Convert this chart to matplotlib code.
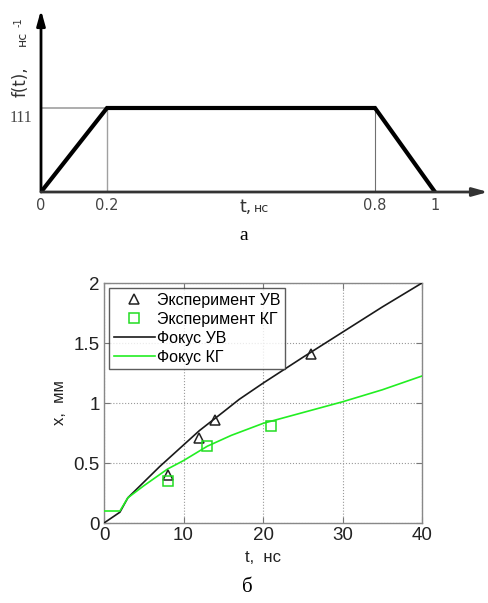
import numpy as np
import matplotlib
matplotlib.use("Agg")
import matplotlib.pyplot as plt

# ---- data: panel a (pulse shape) ----
pulse_t = [0, 0.2, 0.8, 1.0]
pulse_f = [0, 111, 111, 0]
pulse_ticks = [0, 0.2, 0.8, 1]
pulse_tick_labels = ["0", "0.2", "0.8", "1"]
# schematic (non-linear) drawing positions of the t axis
sch_t = [0, 0.2, 0.8, 1.0, 1.2]
sch_pos = [0, 66, 334, 394, 454]

# ---- data: panel b ----
exp_uv_t = [8, 12, 14, 26]
exp_uv_x = [0.40, 0.71, 0.86, 1.41]
exp_kg_t = [8, 13, 21]
exp_kg_x = [0.35, 0.645, 0.81]
foc_uv_t = [0, 2, 3, 5, 7, 10, 12, 15, 17, 20, 25, 30, 35, 40]
foc_uv_x = [0, 0.09, 0.21, 0.34, 0.47, 0.65, 0.77, 0.925, 1.03, 1.165, 1.38, 1.59, 1.80, 2.0]
foc_kg_t = [0, 2, 3, 5, 8, 10, 13, 16, 20, 25, 30, 35, 40]
foc_kg_x = [0.1, 0.1, 0.21, 0.31, 0.45, 0.52, 0.64, 0.73, 0.83, 0.92, 1.01, 1.11, 1.225]

W, H = 488, 603
fig = plt.figure(figsize=(W / 100, H / 100), dpi=100)

def fx(px):
    return px / W

def fy(py):
    return 1 - py / H

# ---------------- panel a ----------------
ax1 = fig.add_axes([fx(41), fy(192), fx(488 - 41), (192 - 10) / H])
fwd = lambda t: np.interp(t, sch_t, sch_pos)
inv = lambda p: np.interp(p, sch_pos, sch_t)
ax1.set_xscale("function", functions=(fwd, inv))
ax1.set_xlim(0, inv(447))
ax1.set_ylim(0, (192 - 10) / 84 * 111)
for s in ax1.spines.values():
    s.set_visible(False)
ax1.set_xticks([])
ax1.set_yticks([])
ax1.patch.set_alpha(0)

grey = "#a0a0a0"
ax1.plot([0, pulse_t[1]], [pulse_f[1], pulse_f[1]], color=grey, lw=1.2)
ax1.plot([pulse_t[1], pulse_t[1]], [0, pulse_f[1]], color=grey, lw=1.0)
ax1.plot([pulse_t[2], pulse_t[2]], [0, pulse_f[2]], color="#707070", lw=0.8)
ax1.plot(pulse_t, pulse_f, color="black", lw=3, solid_joinstyle="miter", zorder=3)
# axes arrows
ax1.annotate("", xy=(0, 1.0), xytext=(0, 0), xycoords="axes fraction",
             arrowprops=dict(arrowstyle="-|>,head_length=0.9,head_width=0.25",
                             lw=2, color="black", shrinkA=0, shrinkB=0))
ax1.annotate("", xy=(1.0, 0), xytext=(0, 0), xycoords="axes fraction",
             arrowprops=dict(arrowstyle="-|>,head_length=0.9,head_width=0.25",
                             lw=2, color="#333333", shrinkA=0, shrinkB=0))
for t, lab in zip(pulse_ticks, pulse_tick_labels):
    ax1.text(t, -8, lab, ha="center", va="top", fontsize=10.5,
             color="#444444", family="DejaVu Sans")
ax1.annotate(str(pulse_f[1]), xy=(0, pulse_f[1]), xycoords="data",
             xytext=(-20, -10), textcoords="offset pixels",
             ha="center", va="center", fontsize=11.5,
             color="#444444", family="Liberation Serif")
fig.text(fx(240), fy(207), "t,", ha="left", va="center", fontsize=12.5,
         color="#333333", family="DejaVu Sans")
fig.text(fx(254), fy(209), "нс", ha="left", va="center", fontsize=9,
         color="#333333", family="DejaVu Sans")
fig.text(fx(21), fy(82), "f(t),", rotation=90, ha="center", va="center",
         fontsize=12, color="#333333", family="DejaVu Sans")
fig.text(fx(22), fy(38), "нс", rotation=90, ha="center", va="center",
         fontsize=9, color="#333333", family="DejaVu Sans")
fig.text(fx(19), fy(22), "-1", rotation=90, ha="center", va="center",
         fontsize=7, color="#333333", family="DejaVu Sans")
fig.text(fx(244), fy(236), "а", ha="center", va="center", fontsize=14,
         family="Liberation Serif")

# ---------------- panel b ----------------
ax2 = fig.add_axes([fx(104), fy(523), fx(422 - 104), (523 - 283) / H])
ax2.plot(foc_uv_t, foc_uv_x, color="#1a1a1a", lw=1.2, label="Фокус УВ", zorder=3)
ax2.plot(foc_kg_t, foc_kg_x, color="#22ee22", lw=1.2, label="Фокус КГ", zorder=3)
ax2.plot(exp_uv_t, exp_uv_x, ls="none", marker="^", ms=7, mfc="none",
         mec="#222222", mew=1.1, label="Эксперимент УВ", zorder=4)
ax2.plot(exp_kg_t, exp_kg_x, ls="none", marker="s", ms=6.5, mfc="none",
         mec="#22dd22", mew=1.1, label="Эксперимент КГ", zorder=4)
ax2.set_xlim(0, 40)
ax2.set_ylim(0, 2)
ax2.set_xticks([0, 10, 20, 30, 40])
ax2.set_yticks([0, 0.5, 1, 1.5, 2])
ax2.set_yticklabels(["0", "0.5", "1", "1.5", "2"])
ax2.grid(True, ls=":", color="#999999", lw=0.8)
ax2.tick_params(direction="in", top=True, right=True, length=4, width=0.8,
                color="#777777", labelsize=13.5, labelcolor="#222222", pad=3)
for lab in ax2.get_xticklabels() + ax2.get_yticklabels():
    lab.set_family("Liberation Sans")
for s in ax2.spines.values():
    s.set_color("#888888")
    s.set_linewidth(1.0)
ax2.set_xlabel("t,  нс", fontsize=12, family="Liberation Sans", labelpad=4,
               color="#222222")
ax2.set_ylabel("x,  мм", fontsize=12, family="Liberation Sans", labelpad=5,
               color="#222222")
h, l = ax2.get_legend_handles_labels()
order = [2, 3, 0, 1]
leg = ax2.legend([h[i] for i in order], [l[i] for i in order], loc="upper left",
                 prop=dict(family="Liberation Sans", size=11.5),
                 frameon=True, fancybox=False, edgecolor="#333333",
                 handlelength=2.6, handletextpad=0.1, borderpad=0.3,
                 labelspacing=0.25, borderaxespad=0.3)
leg.get_frame().set_linewidth(1.0)
fig.text(fx(247), fy(588), "б", ha="center", va="center", fontsize=15,
         family="Liberation Serif")

fig.savefig("out.png", dpi=100)
